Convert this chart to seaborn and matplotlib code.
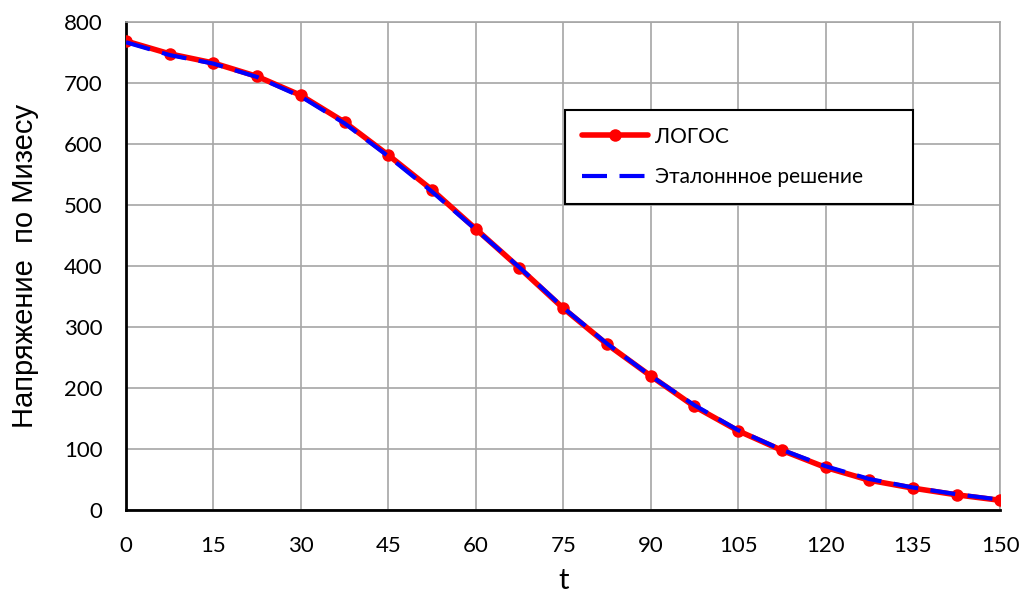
import matplotlib
matplotlib.use('Agg')
import matplotlib.pyplot as plt
import seaborn as sns
import pandas as pd

# Data
t = [0, 7.5, 15, 22.5, 30, 37.5, 45, 52.5, 60, 67.5, 75,
     82.5, 90, 97.5, 105, 112.5, 120, 127.5, 135, 142.5, 150]
logos = [769, 748, 733, 711, 680, 636, 582, 525, 461, 397, 331,
         272, 220, 170, 130, 98, 70, 49, 36, 25, 16]
reference = [767, 746, 732, 710, 678, 634, 580, 522, 460, 398, 332,
             273, 220, 172, 131, 99, 72, 51, 37, 26, 17]

df = pd.DataFrame({'t': t, 'logos': logos, 'ref': reference})

sns.set_style('white')
plt.rcParams['font.family'] = ['Lato', 'DejaVu Sans']
plt.rcParams['text.color'] = 'black'
plt.rcParams['axes.labelcolor'] = 'black'
plt.rcParams['xtick.color'] = 'black'
plt.rcParams['ytick.color'] = 'black'

fig = plt.figure(figsize=(10.24, 5.98), dpi=100)
ax = fig.add_axes([0.123, 0.147, 0.854, 0.816])

sns.lineplot(data=df, x='t', y='logos', ax=ax, color='#ff0000', linewidth=4,
             marker='o', markersize=9, markeredgewidth=0, label='ЛОГОС', zorder=3)
sns.lineplot(data=df, x='t', y='ref', ax=ax, color='#0000ff', linewidth=3,
             dashes=False, label='Эталоннное решение', zorder=4)
ax.lines[-1].set_dashes([6, 3])

ax.set_xlim(0, 150)
ax.set_ylim(0, 800)
ax.set_xticks(range(0, 151, 15))
ax.set_yticks(range(0, 801, 100))
ax.grid(True, color='#a6a6a6', linewidth=1.2)
ax.set_axisbelow(True)

for side in ['top', 'right']:
    ax.spines[side].set_color('#a6a6a6')
    ax.spines[side].set_linewidth(1.2)
for side in ['left', 'bottom']:
    ax.spines[side].set_color('black')
    ax.spines[side].set_linewidth(2)

ax.tick_params(axis='both', direction='inout', length=10, width=2,
               labelsize=16, color='black', labelcolor='black')
ax.tick_params(axis='x', pad=14)
ax.tick_params(axis='y', pad=12)

ax.set_xlabel('t', fontsize=21, labelpad=8)
ax.set_ylabel('Напряжение  по Мизесу', fontsize=21, labelpad=18,
              family=['Liberation Sans', 'DejaVu Sans'])

leg = ax.legend(loc='upper left', bbox_to_anchor=(0.502, 0.629, 0.398, 0.191),
                mode='expand', fontsize=15, frameon=True, fancybox=False,
                handlelength=3.2, handletextpad=0.3, labelspacing=1.0,
                borderpad=0.8, borderaxespad=0)
leg.get_frame().set_edgecolor('black')
leg.get_frame().set_linewidth(1.5)
leg.get_frame().set_alpha(1)

fig.savefig('out.png', dpi=100)
